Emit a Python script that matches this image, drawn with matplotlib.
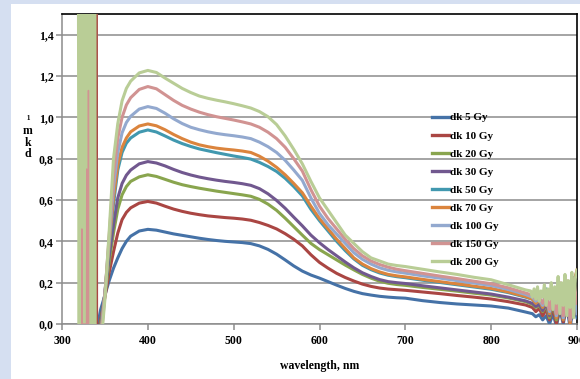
import matplotlib
matplotlib.use("Agg")
import matplotlib.pyplot as plt
from matplotlib.patches import Rectangle
from matplotlib.ticker import FuncFormatter, MultipleLocator

# ---------------- data ----------------
MAIN_WL = [340, 345, 350, 355, 360, 365, 370, 375, 380,
           390, 400, 410, 420, 430, 440, 450, 460, 470, 480,
           490, 500, 510, 520, 530, 540, 550, 560, 570, 580,
           590, 600, 610, 620, 630, 640, 650, 660, 670, 680,
           690, 700,
           720, 740, 760, 780, 800, 820, 840]
TAIL_WL = [848, 852, 856, 860, 864, 868, 872, 876, 880, 884, 888, 892, 896, 900]
TAIL_WL_200 = [846, 848, 850, 852, 854, 856, 858, 860, 862, 864, 866, 868, 870, 872,
               874, 876, 878, 880, 882, 884, 886, 888, 890, 892, 894, 896, 898, 900]

labels = ["dk 5 Gy", "dk 10 Gy", "dk 20 Gy", "dk 30 Gy", "dk 50 Gy",
          "dk 70 Gy", "dk 100 Gy", "dk 150 Gy", "dk 200 Gy"]

dk5 = [-0.04, 0.07, 0.14, 0.21, 0.27, 0.32, 0.365, 0.40, 0.425,
       0.45, 0.458, 0.454, 0.445, 0.436, 0.429, 0.422, 0.415, 0.409, 0.404,
       0.40, 0.397, 0.394, 0.389, 0.378, 0.361, 0.338, 0.31, 0.281, 0.256,
       0.237, 0.222, 0.205, 0.188, 0.172, 0.158, 0.147, 0.14, 0.134, 0.13,
       0.127, 0.125,
       0.113, 0.104, 0.097, 0.092, 0.087, 0.077, 0.058]
dk10 = [-0.1, 0.02, 0.13, 0.25, 0.35, 0.44, 0.505, 0.54, 0.562,
        0.585, 0.593, 0.585, 0.57, 0.556, 0.545, 0.536, 0.529, 0.523, 0.519,
        0.515, 0.512, 0.508, 0.502, 0.491, 0.477, 0.46, 0.437, 0.41, 0.378,
        0.335, 0.298, 0.27, 0.245, 0.225, 0.208, 0.193, 0.182, 0.174, 0.169,
        0.166, 0.163,
        0.155, 0.147, 0.138, 0.13, 0.121, 0.108, 0.092]
dk20 = [-0.14, 0.0, 0.14, 0.30, 0.44, 0.555, 0.625, 0.665, 0.69,
        0.712, 0.722, 0.714, 0.70, 0.686, 0.674, 0.665, 0.657, 0.65, 0.643,
        0.637, 0.631, 0.625, 0.618, 0.603, 0.58, 0.55, 0.512, 0.471, 0.43,
        0.39, 0.36, 0.335, 0.31, 0.285, 0.262, 0.24, 0.222, 0.207, 0.197,
        0.191, 0.187,
        0.177, 0.168, 0.159, 0.149, 0.14, 0.126, 0.108]
dk30 = [-0.17, -0.02, 0.15, 0.33, 0.48, 0.61, 0.68, 0.72, 0.745,
        0.775, 0.786, 0.779, 0.765, 0.748, 0.733, 0.721, 0.711, 0.703, 0.696,
        0.69, 0.685, 0.679, 0.671, 0.655, 0.63, 0.598, 0.56, 0.517, 0.475,
        0.43, 0.393, 0.36, 0.33, 0.30, 0.272, 0.248, 0.23, 0.215, 0.205,
        0.20, 0.196,
        0.185, 0.175, 0.165, 0.155, 0.145, 0.13, 0.112]
dk50 = [-0.2, -0.04, 0.15, 0.37, 0.58, 0.745, 0.83, 0.875, 0.90,
        0.928, 0.939, 0.929, 0.91, 0.89, 0.873, 0.859, 0.847, 0.838, 0.829,
        0.821, 0.813, 0.806, 0.798, 0.782, 0.762, 0.738, 0.705, 0.665, 0.62,
        0.555, 0.50, 0.45, 0.40, 0.355, 0.315, 0.284, 0.263, 0.247, 0.236,
        0.229, 0.224,
        0.212, 0.201, 0.19, 0.179, 0.168, 0.152, 0.13]
dk70 = [-0.22, -0.05, 0.15, 0.39, 0.61, 0.77, 0.855, 0.90, 0.93,
        0.958, 0.968, 0.959, 0.94, 0.917, 0.897, 0.88, 0.867, 0.858, 0.851,
        0.846, 0.842, 0.837, 0.83, 0.812, 0.788, 0.758, 0.722, 0.68, 0.635,
        0.57, 0.51, 0.46, 0.41, 0.365, 0.32, 0.29, 0.268, 0.252, 0.24,
        0.233, 0.228,
        0.216, 0.205, 0.194, 0.183, 0.172, 0.155, 0.133]
dk100 = [-0.25, -0.07, 0.15, 0.41, 0.66, 0.83, 0.925, 0.975, 1.005,
         1.04, 1.052, 1.043, 1.02, 0.993, 0.97, 0.952, 0.94, 0.93, 0.922,
         0.916, 0.911, 0.905, 0.897, 0.88, 0.858, 0.83, 0.792, 0.745, 0.695,
         0.61, 0.535, 0.48, 0.435, 0.39, 0.345, 0.313, 0.29, 0.272, 0.26,
         0.252, 0.246,
         0.233, 0.222, 0.21, 0.198, 0.186, 0.167, 0.143]
dk150 = [-0.28, -0.09, 0.14, 0.43, 0.72, 0.90, 1.0, 1.06, 1.095,
         1.135, 1.149, 1.138, 1.11, 1.082, 1.058, 1.04, 1.025, 1.013, 1.003,
         0.995, 0.987, 0.978, 0.968, 0.952, 0.928, 0.897, 0.855, 0.80, 0.74,
         0.65, 0.57, 0.51, 0.46, 0.41, 0.365, 0.33, 0.305, 0.288, 0.275,
         0.265, 0.258,
         0.245, 0.232, 0.22, 0.207, 0.195, 0.175, 0.15]
dk200 = [-0.32, -0.12, 0.12, 0.45, 0.80, 0.97, 1.08, 1.14, 1.175,
         1.215, 1.227, 1.217, 1.19, 1.165, 1.14, 1.12, 1.103, 1.092, 1.083,
         1.075, 1.066, 1.056, 1.045, 1.028, 1.003, 0.965, 0.91, 0.845, 0.775,
         0.69, 0.61, 0.55, 0.49, 0.43, 0.39, 0.35, 0.32, 0.305, 0.29,
         0.283, 0.278,
         0.265, 0.252, 0.24, 0.226, 0.214, 0.19, 0.165]

tail5 = [0.05, 0.035, 0.045, 0.02, 0.04, 0.0, 0.05, -0.01, 0.07, 0.0, 0.09, -0.02, 0.1, 0.03]
tail10 = [0.08, 0.06, 0.075, 0.04, 0.07, 0.02, 0.08, 0.0, 0.1, 0.01, 0.12, 0.0, 0.14, 0.05]
tail20 = [0.095, 0.08, 0.09, 0.06, 0.09, 0.03, 0.1, 0.02, 0.12, 0.02, 0.14, 0.01, 0.16, 0.06]
tail30 = [0.1, 0.085, 0.095, 0.065, 0.1, 0.04, 0.11, 0.03, 0.13, 0.02, 0.15, 0.0, 0.17, 0.08]
tail50 = [0.12, 0.1, 0.115, 0.08, 0.17, 0.05, 0.14, 0.04, 0.19, 0.03, 0.2, 0.01, 0.22, 0.24]
tail70 = [0.12, 0.1, 0.115, 0.08, 0.12, 0.05, 0.13, 0.03, 0.15, 0.02, 0.19, 0.0, 0.2, 0.26]
tail100 = [0.13, 0.11, 0.12, 0.09, 0.13, 0.06, 0.14, 0.04, 0.16, 0.03, 0.18, 0.02, 0.2, 0.05]
tail150 = [0.14, 0.12, 0.13, 0.1, 0.14, 0.07, 0.16, 0.05, 0.2, 0.04, 0.21, 0.02, 0.22, 0.1]
tail200 = [0.16, 0.13, 0.17, 0.12, 0.18, 0.11, 0.16, 0.13, 0.19, 0.09, 0.17, 0.12, 0.2, 0.07,
           0.18, 0.1, 0.23, 0.05, 0.2, 0.09, 0.24, 0.04, 0.21, 0.08, 0.25, 0.03, 0.22, 0.26]

# saturated UV region (detector noise) below ~341 nm
UV_WL = [319, 320, 321, 322, 323, 324, 325, 326, 327, 328, 329,
         330, 331, 332, 333, 334, 335, 336, 337, 338, 339, 340]
uv200 = [2.0, -0.5, 2.0, -0.5, 2.0, -0.5, 2.0, -0.5, 2.0, -0.5, 2.0,
         -0.5, 2.0, -0.5, 2.0, -0.5, 2.0, -0.5, 2.0, -0.5, 2.0, 2.0]
RED_UV_WL = [340.9, 341.3]
red_uv = [2.0, -0.2]
PINK_UV_WL = [323.0, 323.2, 323.4, 328.6, 328.8, 329.0, 330.6, 330.8, 331.0]
pink_uv = [0.0, 0.46, 0.0, 0.0, 0.75, 0.0, 0.0, 1.13, 0.0]

main_series = [dk5, dk10, dk20, dk30, dk50, dk70, dk100, dk150, dk200]
tail_series = [tail5, tail10, tail20, tail30, tail50, tail70, tail100, tail150, tail200]
colors = ["#4572A7", "#AA4643", "#89A54E", "#71588F", "#4198AF",
          "#DB843D", "#93A9CF", "#D19392", "#B9CD96"]

# ---------------- figure ----------------
W, H = 580, 379
fig = plt.figure(figsize=(W / 100, H / 100), dpi=100)
fig.patch.set_facecolor("#D5DFF1")
fig.patches.append(Rectangle((11 / W, 0), 1 - 11 / W, (H - 4) / H,
                             transform=fig.transFigure, facecolor="white",
                             edgecolor="none", zorder=-10))

L, R, T, B = 62, 577, 14, 324
ax = fig.add_axes([L / W, 1 - B / H, (R - L) / W, (B - T) / H])
ax.set_zorder(1)
ax.set_facecolor("white")

serif = "Liberation Serif"
lw = 2.2
for i, (lab, ys, ts, c) in enumerate(zip(labels, main_series, tail_series, colors)):
    if lab == "dk 200 Gy":
        xs = UV_WL + MAIN_WL + TAIL_WL_200
        yv = uv200 + ys + ts
    else:
        xs = MAIN_WL + TAIL_WL
        yv = ys + ts
    ax.plot(xs, yv, color=c, lw=lw, label=lab, zorder=3 + i * 0.01,
            solid_joinstyle="round")
ax.plot(RED_UV_WL, red_uv, color=colors[1], lw=1.0, zorder=3.5)
ax.plot(PINK_UV_WL, pink_uv, color=colors[7], lw=1.0, zorder=3.2)

ax.set_xlim(300, 900)
ax.set_ylim(0, 1.5)
ax.xaxis.set_major_locator(MultipleLocator(100))
ax.set_yticks([0, 0.2, 0.4, 0.6, 0.8, 1.0, 1.2, 1.4])
ax.yaxis.set_major_formatter(FuncFormatter(lambda v, p: f"{v:.1f}".replace(".", ",")))

ax.grid(axis="y", color="#8C8C8C", lw=1.1, zorder=1)
ax.set_axisbelow(True)
for s in ["top", "right"]:
    ax.spines[s].set_color("black")
    ax.spines[s].set_linewidth(1.2)
for s in ["left", "bottom"]:
    ax.spines[s].set_color("#8C8C8C")
    ax.spines[s].set_linewidth(1.1)

ax.tick_params(axis="both", direction="out", color="#8C8C8C", width=1.1)
ax.tick_params(axis="y", length=4, pad=2)
ax.tick_params(axis="x", length=4, pad=4)
for t in ax.get_xticklabels() + ax.get_yticklabels():
    t.set_fontfamily(serif)
    t.set_fontweight("bold")
    t.set_fontsize(8.5)

ax.set_xlabel("wavelength, nm", fontfamily=serif, fontweight="bold",
              fontsize=8.5, labelpad=9)

fig.text(28 / W, 1 - 137 / H, "¹\nm\nk\nd", fontfamily=serif, fontweight="bold",
         fontsize=8.5, ha="center", va="center", linespacing=0.9)

leg = ax.legend(loc="center left", bbox_to_anchor=((432 - L) / (R - L), (B - 190) / (B - T)),
                frameon=False, borderpad=0, borderaxespad=0, handlelength=1.5,
                handletextpad=0.15, labelspacing=0.75,
                prop={"family": serif, "weight": "bold", "size": 8})
for h in leg.get_lines():
    h.set_linewidth(2.4)

fig.savefig("out.png", dpi=100, facecolor=fig.get_facecolor())
